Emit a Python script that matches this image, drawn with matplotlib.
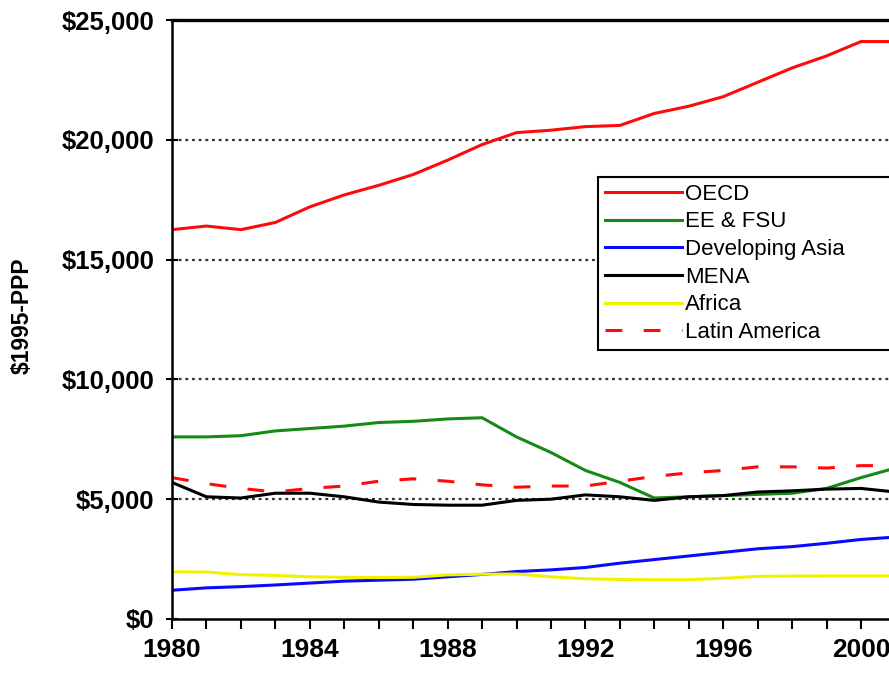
import matplotlib
matplotlib.use("Agg")
import matplotlib.pyplot as plt
import matplotlib.ticker as mticker
import numpy as np

plt.rcParams['text.parse_math'] = False
plt.rcParams['font.family'] = ['Liberation Sans', 'DejaVu Sans']

# GDP per capita, $1995-PPP
years = np.arange(1980, 2002)

oecd = [16250, 16400, 16250, 16550, 17200, 17700, 18100, 18550, 19150, 19800, 20300,
        20400, 20550, 20600, 21100, 21400, 21800, 22400, 23000, 23500, 24100, 24100]
ee_fsu = [7600, 7600, 7650, 7850, 7950, 8050, 8200, 8250, 8350, 8400, 7600,
          6950, 6200, 5700, 5050, 5100, 5150, 5200, 5250, 5450, 5900, 6300]
dev_asia = [1200, 1300, 1350, 1420, 1500, 1580, 1620, 1660, 1760, 1860, 1980,
            2050, 2150, 2330, 2480, 2630, 2780, 2930, 3020, 3160, 3320, 3420]
mena = [5700, 5100, 5050, 5250, 5250, 5100, 4880, 4780, 4750, 4750, 4950,
        5000, 5180, 5100, 4950, 5100, 5150, 5300, 5350, 5420, 5450, 5300]
africa = [1970, 1960, 1850, 1820, 1760, 1740, 1730, 1740, 1840, 1870, 1880,
          1760, 1680, 1650, 1640, 1640, 1700, 1780, 1790, 1800, 1800, 1800]
latam = [5900, 5650, 5450, 5300, 5450, 5550, 5750, 5850, 5750, 5600, 5500,
         5550, 5550, 5750, 5950, 6100, 6200, 6350, 6350, 6300, 6400, 6400]

series = [
    ("OECD", oecd, "#ff0a0a", "-"),
    ("EE & FSU", ee_fsu, "#158a15", "-"),
    ("Developing Asia", dev_asia, "#0a0aff", "-"),
    ("MENA", mena, "#000000", "-"),
    ("Africa", africa, "#f2f200", "-"),
    ("Latin America", latam, "#ff0a0a", (0, (5.5, 7))),
]

fig = plt.figure(figsize=(8.89, 6.74), dpi=100)
ax = fig.add_axes([172/889, 1 - 619/674, 1 - 172/889, (619 - 20)/674])

for name, vals, col, ls in series:
    ax.plot(years, vals, color=col, linestyle=ls, linewidth=2.2, label=name)

ax.set_xlim(1980, 1980 + (889 - 172)/34.45)
ax.set_ylim(0, 25000)

for v in [5000, 10000, 15000, 20000]:
    ax.axhline(v, color="#333333", linestyle=(0, (1.3, 1.7)), linewidth=1.6, zorder=0)

ax.xaxis.set_major_locator(mticker.MultipleLocator(4))
ax.xaxis.set_minor_locator(mticker.MultipleLocator(1))
ax.yaxis.set_major_locator(mticker.MultipleLocator(5000))
ax.yaxis.set_major_formatter(mticker.FuncFormatter(lambda v, p: "${:,.0f}".format(v)))

ax.tick_params(axis="x", which="both", direction="out", length=7, width=1.5, pad=7)
ax.tick_params(axis="y", direction="inout", length=9, width=1.5, pad=8)
for lab in ax.get_xticklabels():
    lab.set_fontsize(19)
    lab.set_fontweight("bold")
for lab in ax.get_yticklabels():
    lab.set_fontsize(18.5)
    lab.set_fontweight("bold")

ax.spines["right"].set_visible(False)
ax.spines["left"].set_linewidth(1.8)
ax.spines["bottom"].set_linewidth(1.8)
ax.spines["top"].set_linewidth(2.4)

fig.text(22/889, 1 - 316/674, "$1995-PPP", rotation=90, fontsize=16.5,
         fontweight="bold", ha="center", va="center")

leg = ax.legend(loc="upper left", bbox_to_anchor=(598/889, 0, 400/889, 1 - 177/674),
                bbox_transform=fig.transFigure, mode="expand", fontsize=16,
                handlelength=3.5, handletextpad=0.1, labelspacing=0.3,
                borderpad=0.3, borderaxespad=0, fancybox=False, framealpha=1)
leg.get_frame().set_edgecolor("black")
leg.get_frame().set_linewidth(1.5)

fig.savefig("out.png", dpi=100)
